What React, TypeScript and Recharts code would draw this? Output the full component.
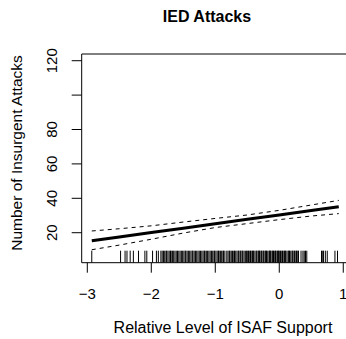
import React from 'react';
import { ComposedChart, Line, Scatter, XAxis, YAxis, ReferenceArea } from 'recharts';

// fitted mean and 95% band over the observed support range
const fitX = [-2.93, -2.5, -2, -1.5, -1, -0.5, 0, 0.5, 0.93];
const fitMean = [15.3, 17.5, 20.1, 22.6, 25.2, 27.8, 30.3, 32.9, 35.1];
const fitUpper = [21.0, 22.3, 24.0, 26.2, 28.3, 30.3, 33.0, 36.1, 38.8];
const fitLower = [10.1, 12.8, 16.2, 19.8, 23.0, 25.3, 27.6, 29.7, 31.1];

// observed ISAF support values (rug)
const rugX = [
  -2.93, -2.48, -2.41, -2.38, -2.33, -2.28, -2.2, -2.1, -2.07,
  -1.98, -1.92, -1.89, -1.85, -1.83, -1.81, -1.79, -1.77, -1.76, -1.74, -1.72,
  -1.7, -1.69, -1.67, -1.65, -1.63, -1.61, -1.59, -1.57, -1.55, -1.53, -1.51,
  -1.49, -1.47, -1.46, -1.44, -1.42, -1.4, -1.38, -1.36, -1.35, -1.33, -1.31,
  -1.29, -1.27, -1.25, -1.23, -1.21, -1.19, -1.17, -1.16, -1.14, -1.12, -1.1,
  -1.08, -1.06, -1.04, -1.02, -1.01, -0.99, -0.97, -0.95, -0.94, -0.92, -0.9,
  -0.88, -0.87, -0.85, -0.82, -0.8, -0.78, -0.77, -0.75, -0.73, -0.71, -0.7,
  -0.68, -0.66, -0.64, -0.63, -0.61, -0.6, -0.58, -0.57, -0.55, -0.53, -0.51,
  -0.5, -0.48, -0.47, -0.45, -0.44, -0.42, -0.41, -0.4, -0.38, -0.36, -0.35,
  -0.33, -0.32, -0.31, -0.3, -0.28, -0.27, -0.25, -0.24, -0.22, -0.21, -0.2,
  -0.18, -0.16, -0.15, -0.14, -0.13, -0.11, -0.1, -0.09, -0.07, -0.06, -0.05,
  -0.03, -0.02, -0.01, 0.0, 0.02, 0.03, 0.05, 0.06, 0.08, 0.09, 0.1, 0.12,
  0.14, 0.15, 0.16, 0.18, 0.2, 0.21, 0.23, 0.24, 0.26, 0.27, 0.29, 0.3, 0.34,
  0.37, 0.39, 0.41, 0.43, 0.66, 0.68, 0.69, 0.72, 0.75, 0.87, 0.91,
];

const xTicks = [-3, -2, -1, 0, 1];
const yTicks = [20, 40, 60, 80, 100, 120];
const yLabelled = [20, 40, 60, 80, 120];

const X_DOMAIN: [number, number] = [-3.0875, 1.085];
const Y_DOMAIN: [number, number] = [2.56, 123.9];

const FONT = '"Liberation Sans", Arial, Helvetica, sans-serif';

const fitData = fitX.map((x, i) => ({
  x,
  mean: fitMean[i],
  upper: fitUpper[i],
  lower: fitLower[i],
}));

const rugData = rugX.map((x) => ({ x, y: Y_DOMAIN[0] }));

const fmt = (v: number) => (v < 0 ? `\u2212${Math.abs(v)}` : `${v}`);

const XTick = (props: any) => {
  const { x, payload } = props;
  return (
    <text x={x} y={298.5} textAnchor="middle" fontFamily={FONT} fontSize={15} fill="#000">
      {fmt(payload.value)}
    </text>
  );
};

const YTick = (props: any) => {
  const { y, payload } = props;
  if (!yLabelled.includes(payload.value)) return <g />;
  return (
    <text
      x={57.5}
      y={y}
      transform={`rotate(-90, 57.5, ${y})`}
      textAnchor="middle"
      fontFamily={FONT}
      fontSize={15}
      fill="#000"
    >
      {payload.value}
    </text>
  );
};

const RugTick = (props: any) => {
  const { cx, cy } = props;
  return <line x1={cx} x2={cx} y1={cy} y2={cy - 12} stroke="#000" strokeWidth={1} />;
};

export default function App() {
  return (
    <div style={{ position: 'absolute', left: 0, top: 0, width: 346, height: 339, overflow: 'hidden', background: '#fff' }}>
      <ComposedChart
        width={352}
        height={339}
        data={fitData}
        margin={{ top: 54, right: 3.3, bottom: 46.3, left: 21.7 }}
      >
        <XAxis
          type="number"
          dataKey="x"
          domain={X_DOMAIN}
          ticks={xTicks}
          allowDataOverflow
          height={30}
          axisLine={false}
          tickLine={{ stroke: '#000' }}
          tickSize={10}
          tick={XTick}
          interval={0}
        />
        <YAxis
          type="number"
          domain={Y_DOMAIN}
          ticks={yTicks}
          allowDataOverflow
          width={60}
          axisLine={false}
          tickLine={{ stroke: '#000' }}
          tickSize={10}
          tick={YTick}
          interval={0}
        />
        <ReferenceArea
          x1={X_DOMAIN[0]}
          x2={X_DOMAIN[1]}
          y1={Y_DOMAIN[0]}
          y2={Y_DOMAIN[1]}
          fill="none"
          stroke="#000"
          strokeWidth={1}
        />
        <Scatter data={rugData} dataKey="y" shape={RugTick} isAnimationActive={false} />
        <Line dataKey="upper" stroke="#000" strokeWidth={1} strokeDasharray="4 4" dot={false} isAnimationActive={false} />
        <Line dataKey="lower" stroke="#000" strokeWidth={1} strokeDasharray="4 4" dot={false} isAnimationActive={false} />
        <Line dataKey="mean" stroke="#000" strokeWidth={3} dot={false} isAnimationActive={false} />
      </ComposedChart>
      <svg width={346} height={339} style={{ position: 'absolute', left: 0, top: 0, pointerEvents: 'none' }}>
        <text x={207} y={21.5} textAnchor="middle" fontFamily={FONT} fontSize={16} fontWeight="bold" fill="#000">
          IED Attacks
        </text>
        <text x={223} y={333} textAnchor="middle" fontFamily={FONT} fontSize={16} fill="#000">
          Relative Level of ISAF Support
        </text>
        <text
          x={22}
          y={153}
          transform="rotate(-90, 22, 153)"
          textAnchor="middle"
          fontFamily={FONT}
          fontSize={15.5}
          fill="#000"
        >
          Number of Insurgent Attacks
        </text>
      </svg>
    </div>
  );
}
